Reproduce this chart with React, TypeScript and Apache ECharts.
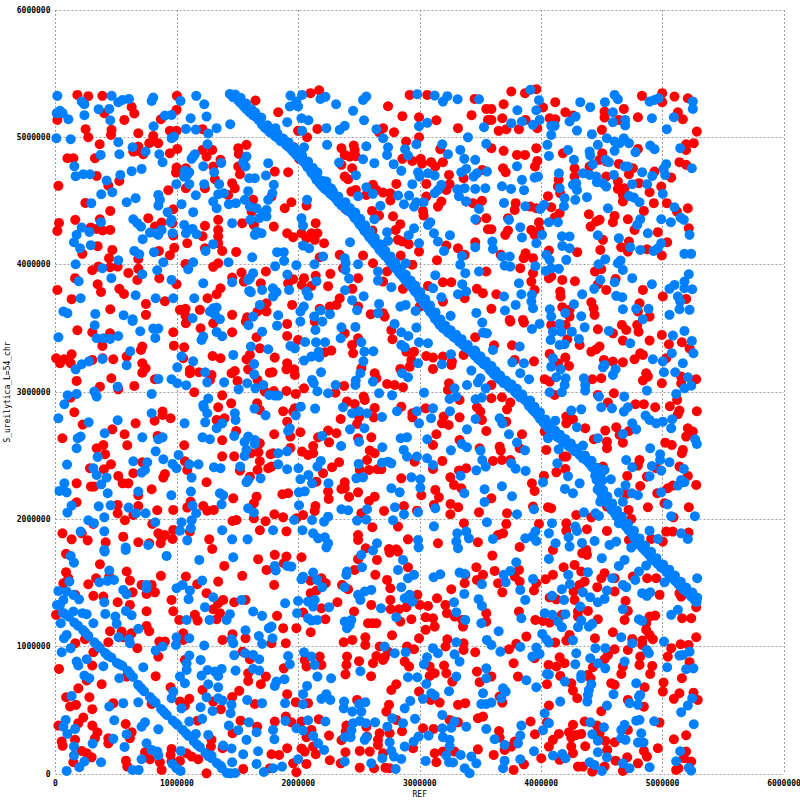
import React, { useEffect, useRef } from "react";
import * as echarts from "echarts";

const tickMax = 6000000;
const tickStep = 1000000;

const bandUpper = [[1436,5341],[1480,5315],[1525,5270],[1570,5225],[1600,5200],[1650,5160],[1700,5100],[1740,5065],[1782,5035],[1830,4995],[1875,4965],[1920,4925],[1960,4885],[1987,4862],[2035,4815],[2075,4765],[2110,4720],[2150,4665],[2193,4619],[2240,4580],[2285,4540],[2330,4490],[2380,4450],[2424,4415],[2465,4365],[2505,4315],[2545,4265],[2585,4215],[2630,4165],[2670,4116],[2715,4070],[2755,4020],[2800,3970],[2840,3925],[2880,3880],[2918,3841],[2960,3790],[3000,3735],[3040,3685],[3085,3630],[3125,3575],[3165,3527],[3210,3490],[3255,3455],[3300,3420],[3350,3375],[3411,3331],[3455,3285],[3500,3245],[3545,3210],[3580,3170],[3617,3134],[3665,3095],[3710,3065],[3755,3030],[3800,2985],[3864,2938],[3900,2890],[3945,2845],[3990,2790],[4030,2745],[4070,2702],[4110,2670],[4155,2635],[4200,2600],[4250,2560],[4317,2505],[4370,2465],[4420,2410],[4445,2345],[4457,2309],[4465,2235],[4500,2185],[4540,2130],[4580,2074],[4620,2025],[4670,1970],[4720,1915],[4765,1855],[4810,1799],[4860,1750],[4905,1700],[4960,1650],[5010,1610],[5057,1563],[5105,1515],[5150,1470],[5200,1430],[5240,1390],[5280,1351]];
const bandUpperSide = [[1481,5336],[1525,5310],[1570,5265],[1615,5220],[1645,5195],[1695,5155],[1745,5095],[1785,5060],[1827,5030],[1875,4990],[1920,4960],[1965,4920],[2005,4880],[2032,4857],[2080,4810],[2120,4760],[2155,4715],[2195,4660],[2238,4614],[2285,4575],[2330,4535],[2375,4485],[2425,4445],[2469,4410],[2510,4360],[2550,4310],[2590,4260],[2630,4210],[2675,4160],[2715,4111],[2760,4065],[2800,4015],[2845,3965],[2885,3920],[2925,3875],[2963,3836],[3005,3785],[3045,3730],[3085,3680],[3130,3625],[3170,3570],[3210,3522],[3255,3485],[3300,3450],[3345,3415],[3395,3370],[3456,3326],[3500,3280],[3545,3240],[3590,3205],[3625,3165],[3662,3129],[3710,3090],[3755,3060],[3800,3025],[3845,2980],[3909,2933],[3945,2885],[3990,2840],[4035,2785],[4075,2740],[4115,2697],[4155,2665],[4200,2630],[4245,2595],[4295,2555],[4362,2500],[4415,2460],[4465,2405],[4490,2340],[4502,2304],[4510,2230],[4545,2180],[4585,2125],[4625,2069],[4665,2020],[4715,1965],[4765,1910],[4810,1850],[4855,1794],[4905,1745],[4950,1695],[5005,1645],[5055,1605],[5102,1558],[5150,1510],[5195,1465],[5245,1425],[5285,1385]];
const bandUpperMid = [[1461,5316],[1505,5290],[1550,5245],[1595,5200],[1625,5175],[1675,5135],[1725,5075],[1765,5040],[1807,5010],[1855,4970],[1900,4940],[1945,4900],[1985,4860],[2012,4837],[2060,4790],[2100,4740],[2135,4695],[2175,4640],[2218,4594],[2265,4555],[2310,4515],[2355,4465],[2405,4425],[2449,4390],[2490,4340],[2530,4290],[2570,4240],[2610,4190],[2655,4140],[2695,4091],[2740,4045],[2780,3995],[2825,3945],[2865,3900],[2905,3855],[2943,3816],[2985,3765],[3025,3710],[3065,3660],[3110,3605],[3150,3550],[3190,3502],[3235,3465],[3280,3430],[3325,3395],[3375,3350],[3436,3306],[3480,3260],[3525,3220],[3570,3185],[3605,3145],[3642,3109],[3690,3070],[3735,3040],[3780,3005],[3825,2960],[3889,2913],[3925,2865],[3970,2820],[4015,2765],[4055,2720],[4095,2677],[4135,2645],[4180,2610],[4225,2575],[4275,2535],[4342,2480],[4395,2440],[4445,2385],[4470,2320],[4482,2284],[4490,2210],[4525,2160],[4565,2105],[4605,2049],[4645,2000],[4695,1945],[4745,1890],[4790,1830],[4835,1774],[4885,1725],[4930,1675],[4985,1625],[5035,1585],[5082,1538],[5130,1490],[5175,1445],[5225,1405],[5265,1365]];
const bandLower = [[12,1327],[62,1265],[110,1235],[155,1190],[226,1131],[270,1085],[320,1035],[366,990],[410,950],[460,915],[506,872],[550,850],[595,810],[638,762],[680,700],[730,650],[778,605],[825,560],[870,510],[917,463],[965,420],[1005,385],[1049,346],[1095,300],[1140,255],[1189,212],[1235,165],[1285,125],[1329,86],[1370,45],[1411,8],[1440,5],[1360,65],[1260,140],[1165,232],[1075,320],[990,400],[895,485],[800,580],[705,675],[615,785],[530,860],[430,930],[345,1010],[245,1110],[185,1165],[90,1250],[1480,8]];

const redA = [[180,5333],[270,5323],[386,5326],[1000,5326],[627,5239],[649,5187],[402,5190],[15,5137],[567,5137],[868,5142],[997,5216],[1647,5289],[248,5064],[270,5001],[462,5059],[457,5019],[682,5032],[364,4946],[805,5011],[772,4954],[846,4954],[682,4928],[674,4894],[641,4888],[723,4867],[1003,4909],[942,4875],[98,4836],[147,4836],[325,4836],[942,5051],[997,5051],[1211,5064],[1211,4901],[1291,4901],[1244,4849],[1505,4915],[1573,4941],[1510,4870],[1359,4823],[1299,4771],[997,4763],[992,4723],[1074,4757],[1519,4710],[1505,4771],[339,4697],[526,4658],[435,4621],[24,4619],[929,4585],[1074,4600],[1231,4600],[1313,4671],[1455,4640],[1477,4600],[1422,4548],[246,4485],[451,4422],[970,4435],[764,4365],[1340,4352],[1538,4326],[1628,4509],[1615,4417],[1634,4312],[29,4328],[15,4265],[163,4352],[366,4357],[290,4291],[339,4281],[388,4268],[451,4273],[874,4331],[819,4299],[962,4326],[1231,4305],[1340,4273],[1340,4221],[1211,4223],[1085,4168],[1340,4168],[970,4229],[347,4145],[468,4116],[221,4085],[978,4132],[1231,4129],[1373,4108],[1488,4100],[852,4108],[942,4074],[682,4045],[441,4051],[449,3980],[512,3985],[353,3985],[303,3956],[1071,4006],[1340,4011],[1299,3983],[682,3967],[600,3935],[674,3880],[855,3894],[161,3894],[347,3846],[526,3810],[564,3770],[375,3786],[15,3802],[133,3729],[997,3846],[1532,3938],[1551,3867],[1455,3899],[1733,3946],[1691,3854],[1359,3815],[1327,3768],[1252,3736],[901,3713],[745,3692],[451,3650],[745,3606],[1025,3645],[1071,3653],[1071,3598],[1189,3645],[1455,3606],[1579,3587],[1664,3632],[1738,3697],[1738,3632]];
const blueA = [[15,5326],[216,5281],[238,5260],[462,5326],[517,5276],[553,5294],[605,5302],[792,5286],[805,5313],[1030,5286],[1159,5326],[1225,5260],[10,5190],[37,5208],[59,5190],[355,5221],[443,5223],[106,5142],[238,5174],[451,5134],[901,5171],[956,5176],[1113,5150],[1244,5163],[1439,5103],[808,5087],[1074,5066],[1156,5061],[1258,5030],[1327,5072],[7,4993],[125,4985],[517,4962],[635,4922],[742,4888],[855,4867],[882,4805],[956,4993],[975,5006],[1252,4946],[372,4862],[526,4867],[1134,4849],[1148,4867],[1121,4831],[155,4773],[1217,4773],[1365,4799],[1573,4849],[1546,4805],[1565,4771],[1752,4797],[709,4752],[627,4734],[1307,4726],[166,4695],[229,4710],[284,4710],[534,4705],[421,4661],[1066,4737],[1102,4726],[1058,4692],[1085,4705],[1102,4632],[995,4632],[1225,4632],[1348,4632],[1595,4679],[1642,4679],[1733,4700],[377,4553],[468,4569],[847,4548],[860,4509],[847,4464],[1156,4545],[1340,4553],[1387,4561],[1587,4577],[295,4483],[586,4490],[660,4522],[1038,4475],[1299,4496],[1327,4443],[1428,4475],[1486,4483],[1560,4509],[1752,4509],[1601,4456],[1656,4443],[1711,4404],[1738,4430],[1134,4412],[923,4412],[1678,4365],[1738,4378],[641,4357],[674,4326],[704,4299],[375,4333],[216,4291],[279,4257],[956,4352],[948,4333],[1455,4326],[1604,4352],[1060,4312],[1074,4247],[1129,4281],[1162,4239],[778,4252],[827,4247],[874,4273],[847,4234],[964,4247],[718,4200],[1656,4260],[1697,4247],[1642,4234],[174,4234],[152,4176],[202,4129],[290,4153],[649,4108],[690,4082],[811,4098],[1299,4161],[1236,4108],[166,4003],[517,4035],[386,3972],[888,4019],[1134,4019],[1093,3964],[1425,4019],[1620,4058],[838,3956],[715,3925],[460,3894],[191,3870],[956,3880],[1217,3854],[1455,3862],[1628,3933],[1601,3894],[1587,3880],[1595,3794],[1609,3784],[1702,3802],[207,3736],[660,3760],[825,3736],[970,3736],[1143,3736],[1683,3684],[65,3632],[98,3619],[328,3613],[561,3603],[635,3571],[1129,3579],[1299,3658],[1327,3663],[1272,3632],[1313,3606],[1354,3571],[1628,3592]];

const redB = [[2100,5347],[2171,5370],[1834,5197],[2739,5244],[2857,5166],[2994,5158],[3137,5134],[3427,5174],[3548,5223],[2917,5333],[3062,5333],[3452,5302],[2698,5072],[2665,5040],[2788,5040],[2157,5066],[1998,5051],[2072,5001],[1965,4922],[2994,5001],[2887,4967],[3315,5072],[3562,5137],[2355,4915],[2456,4936],[2464,4901],[2382,4862],[2423,4849],[2473,4852],[2355,4784],[2443,4757],[2006,4831],[2857,4831],[2939,4815],[3008,4831],[3019,4794],[3093,4805],[3128,4771],[3191,4805],[3169,4907],[1806,4731],[1916,4726],[3241,4705],[3515,4744],[3361,4679],[3054,4634],[2807,4634],[2382,4692],[2410,4671],[2615,4627],[2643,4587],[2698,4566],[2758,4561],[2758,4504],[2437,4574],[2473,4587],[2560,4548],[3246,4632],[3219,4587],[3383,4496],[3438,4483],[3512,4501],[3178,4496],[3150,4456],[3054,4535],[1943,4490],[1888,4443],[2067,4464],[1779,4535],[2388,4438],[2607,4422],[2665,4386],[3027,4422],[3032,4386],[2780,4380],[2143,4326],[1798,4299],[2840,4318],[2802,4273],[2610,4268],[3466,4352],[3548,4365],[3562,4278],[1908,4247],[1957,4216],[2026,4247],[2067,4208],[2108,4247],[2157,4247],[2135,4195],[2212,4168],[2821,4195],[2857,4182],[2909,4161],[2689,4142],[3219,4150],[3315,4129],[3457,4176],[2994,4103],[2176,4058],[2341,4077],[2533,4072],[2843,4072],[2615,4011],[3142,4035],[2939,4000],[3548,3946],[3370,4077],[2368,3972],[2264,3928],[2047,3894],[2143,3912],[1957,3886],[1916,3854],[2028,3841],[2108,3833],[2245,3831],[2492,3894],[2445,3810],[2698,3867],[2731,3946],[2862,3810],[3068,3833],[3191,3862],[3260,3862],[3471,3810],[3520,3776],[3370,3736],[3191,3710],[1949,3684],[2341,3736],[2314,3684],[2259,3671],[2492,3671],[2596,3611],[2698,3619],[2711,3592],[3000,3671],[2176,3653]];
const blueB = [[1935,5328],[1984,5281],[2031,5333],[1930,5242],[1998,5242],[2182,5302],[2223,5318],[2311,5260],[2533,5294],[2560,5320],[2451,5208],[2541,5134],[1908,5119],[2026,5150],[2083,5134],[1812,5072],[2031,5051],[2231,5072],[2341,5059],[2382,5090],[2643,5064],[2698,4993],[2994,5087],[3062,5114],[2980,5339],[3123,5328],[3191,5281],[3227,5323],[3312,5299],[3488,5299],[3529,5080],[3397,5000],[2047,4922],[2237,4941],[2560,4930],[2739,4922],[2879,4907],[2903,4857],[2972,4946],[3548,4949],[3186,4946],[3232,4867],[3334,4901],[3367,4831],[3457,4823],[2731,4862],[2785,4789],[2533,4828],[2626,4797],[2336,4802],[2848,4737],[2986,4726],[2999,4692],[3068,4718],[3123,4700],[3342,4726],[3383,4752],[3444,4692],[3471,4718],[3553,4731],[2157,4726],[2475,4702],[2231,4653],[2270,4600],[2939,4632],[2560,4608],[2492,4538],[2615,4556],[2821,4543],[2912,4543],[3178,4627],[3150,4587],[3123,4561],[3309,4593],[3370,4600],[3457,4595],[3540,4600],[3323,4538],[3383,4496],[1798,4627],[1787,4561],[2072,4509],[2388,4490],[2870,4475],[2972,4490],[3032,4490],[2953,4456],[2676,4462],[3488,4438],[3457,4357],[2626,4357],[2026,4365],[2039,4307],[3087,4333],[3068,4312],[2953,4286],[2731,4255],[3117,4247],[3249,4231],[2909,4231],[2739,4187],[2426,4176],[2994,4168],[3150,4182],[3200,4108],[3457,4137],[2039,4150],[2089,4129],[1825,4098],[1880,4098],[1883,4030],[1809,3988],[1984,3996],[2133,4003],[2204,4064],[2382,4051],[2390,4011],[2388,3959],[2492,4003],[3348,4069],[3334,4000],[3375,3933],[3488,3946],[2884,4011],[1910,3922],[2418,3891],[2149,3870],[2656,3946],[2656,3875],[3128,3917],[2766,3823],[1790,3815],[1820,3784],[1792,3750],[1924,3802],[2067,3789],[2083,3755],[2385,3799],[2538,3752],[2443,3721],[3109,3815],[3178,3744],[3315,3768],[3383,3789],[3350,3846],[2665,3692],[2840,3671],[2884,3684],[2484,3642],[2045,3671],[2017,3632],[1834,3603],[2185,3640],[2261,3611],[2130,3592],[2656,3619],[2966,3637],[3466,3621],[3254,3598]];

const redC = [[3754,5360],[3691,5260],[3867,5347],[3960,5378],[4116,5276],[4015,5234],[3590,5223],[3590,5137],[3680,5150],[3872,5137],[4199,5197],[4262,5171],[4070,5150],[4116,5142],[3650,5051],[3713,5064],[3817,5064],[3968,5072],[4500,5059],[4522,5203],[4522,5155],[4681,5223],[4797,5158],[4640,5137],[4830,5326],[4997,5347],[4997,5276],[5098,5320],[5208,5307],[5126,5197],[5167,5142],[5282,5045],[3590,4915],[3691,4894],[3801,4862],[3867,4862],[3960,4915],[4179,4875],[4503,4875],[4481,4823],[4536,4810],[4797,4909],[5194,4946],[5257,4954],[5194,4901],[3686,4757],[3708,4726],[3968,4815],[3949,4771],[4275,4757],[4399,4771],[4275,4692],[4640,4791],[4756,4757],[4723,4710],[4934,4731],[5071,4684],[5139,4805],[5194,4784],[4536,4692],[4144,4666],[4138,4613],[4632,4653],[4632,4595],[4687,4600],[4805,4640],[4893,4569],[4989,4613],[4157,4561],[4056,4538],[4673,4548],[4673,4496],[4928,4483],[5035,4483],[3790,4483],[3782,4430],[3911,4456],[3960,4443],[4083,4451],[4152,4404],[4111,4370],[4846,4422],[4393,4396],[5208,4443],[5118,4417],[4605,4383],[4591,4333],[4481,4352],[4454,4339],[4714,4357],[3727,4365],[3982,4333],[4407,4299],[3590,4278],[3727,4268],[3705,4234],[3919,4273],[3946,4234],[3987,4273],[4769,4273],[4961,4255],[5216,4286],[4509,4195],[4487,4116],[4723,4182],[4659,4137],[4714,4103],[4871,4121],[5038,4176],[4994,4072],[4297,4098],[4064,4111],[3933,4051],[3872,4090],[3856,4051],[3667,4077],[3828,3972],[3933,3933],[3919,3867],[3946,3802],[4443,3946],[4495,3964],[4083,3907],[4174,3880],[4278,3870],[4064,3894],[4536,3802],[4613,3888],[4467,3846],[4838,3802],[5002,3750],[5194,3731],[3631,3768],[4157,3789],[4160,3750],[4413,3705],[4432,3658],[4440,3606],[4174,3666],[4234,3645],[4234,3592],[4810,3697],[4797,3632],[4893,3592],[3590,3653],[3741,3566],[3850,3566]];
const blueC = [[3911,5373],[3982,5292],[3804,5213],[3960,5213],[3987,5137],[3842,5124],[3754,5111],[3933,5098],[4322,5276],[4404,5237],[4525,5276],[4605,5333],[4632,5299],[4591,5197],[4591,5119],[4692,5137],[4692,5093],[4912,5150],[4893,5281],[4934,5294],[4967,5307],[5249,5281],[5249,5223],[5093,5158],[5035,5064],[4284,5163],[4234,5124],[4083,5090],[4111,5090],[4083,5019],[4295,5053],[4418,5025],[4051,4941],[4064,4854],[4221,4901],[4270,4823],[4467,4941],[4399,4888],[4404,4857],[4426,4789],[4531,4823],[4558,4805],[4541,4993],[4605,4967],[4646,4954],[4681,4993],[4723,4954],[4605,4894],[4777,4883],[4898,4936],[4934,4907],[5145,4915],[3801,4773],[4146,4718],[4344,4718],[4399,4705],[4454,4692],[4459,4648],[4509,4640],[4536,4613],[4599,4705],[4687,4771],[4714,4771],[4832,4726],[4915,4697],[5030,4789],[5008,4752],[5022,4705],[5241,4757],[3974,4692],[3946,4684],[3842,4666],[4262,4627],[4289,4640],[4295,4587],[4750,4632],[4873,4632],[3677,4616],[3752,4595],[3859,4585],[4152,4600],[5002,4556],[4193,4522],[4281,4509],[4377,4530],[4723,4540],[4764,4527],[4810,4490],[3694,4485],[3870,4459],[3993,4438],[4023,4470],[4188,4459],[4550,4443],[5098,4451],[5148,4370],[5175,4352],[3735,4352],[4064,4333],[4138,4333],[4989,4357],[5068,4333],[4816,4357],[4791,4312],[3828,4294],[3842,4213],[4007,4234],[4171,4223],[4234,4221],[4467,4231],[4640,4208],[4879,4247],[5222,4234],[3598,4182],[3603,4124],[3960,4168],[4174,4147],[4234,4129],[4734,4137],[4816,4116],[4926,4108],[4989,4168],[4961,4129],[5180,4085],[5235,4085],[3677,4064],[3741,4064],[4042,4077],[4070,4038],[4207,4038],[4528,4043],[4473,4003],[4654,4032],[4632,4011],[3699,3993],[3746,3985],[3952,3988],[4083,3972],[4037,3951],[4146,3967],[4673,3959],[5216,3925],[4750,3894],[4487,3880],[4605,3862],[3817,3854],[4912,3846],[5180,3867],[5098,3841],[5057,3810],[5244,3807],[5180,3815],[4437,3810],[4338,3768],[4618,3755],[4668,3744],[5126,3750],[5145,3710],[3694,3750],[3837,3768],[3924,3763],[3919,3710],[3790,3684],[3933,3658],[3702,3640],[4270,3689],[4072,3650],[4673,3650],[4199,3621],[4083,3592],[4330,3595],[4783,3653],[4884,3653],[5139,3650],[5222,3645],[5057,3606],[4838,3571]];

const redD = [[180,3485],[303,3469],[449,3461],[386,3362],[970,3469],[975,3364],[1060,3351],[715,3357],[704,3330],[1195,3501],[1074,3540],[1299,3540],[1455,3469],[1656,3430],[1568,3553],[5,3265],[37,3226],[70,3257],[133,3296],[125,3226],[303,3252],[388,3265],[476,3257],[586,3278],[715,3226],[742,3186],[715,3152],[1052,3265],[1294,3283],[1359,3265],[1573,3257],[1601,3291],[1683,3343],[1107,3173],[1107,3147],[1181,3155],[1285,3134],[1272,3095],[1477,3165],[1450,3147],[1587,3178],[1765,3152],[1499,3087],[1664,3095],[1724,3003],[174,3087],[460,3108],[366,3042],[649,3048],[819,3100],[517,3021],[1143,2998],[1373,2974],[125,2956],[1447,2911],[1340,2880],[1661,2911],[1683,2859],[155,2841],[882,2846],[882,2820],[948,2794],[816,2775],[1327,2781],[1392,2794],[660,2754],[224,2744],[468,2707],[57,2637],[569,2668],[841,2655],[591,2582],[1060,2582],[1373,2621],[1488,2694],[1683,2597],[339,2558],[394,2584],[408,2511],[1373,2495],[1472,2495],[1609,2519],[1672,2527],[1771,2511],[1683,2456],[1066,2456],[1085,2388],[715,2448],[457,2432],[399,2393],[284,2401],[641,2362],[517,2341],[901,2356],[888,2328],[1664,2388],[1519,2383],[1752,2401],[553,2283],[600,2283],[174,2283],[292,2257],[317,2257],[1244,2291],[1601,2335],[792,2236],[682,2189],[1656,2178],[1634,2126],[1464,2165],[1113,2139],[174,2134],[512,2113],[682,2105],[512,2048],[641,2034],[838,2071],[970,2074],[1217,2105],[1250,2068],[1304,2074],[1085,2092],[572,1993],[797,1964],[1458,1987],[1491,1995],[1634,2008],[1730,1985],[312,1964],[57,1890],[133,1843],[216,1890],[265,1835],[413,1820],[558,1864],[682,1820],[772,1812],[847,1890],[874,1851],[901,1877],[866,1812],[970,1917],[964,1846],[1107,1904],[1266,1843],[1683,1914],[1291,1767]];
const blueD = [[323,3524],[24,3430],[339,3422],[394,3422],[449,3417],[517,3440],[635,3558],[698,3477],[805,3498],[847,3498],[822,3425],[1217,3435],[1203,3409],[1327,3472],[1373,3438],[1590,3524],[1702,3474],[1609,3357],[1752,3336],[616,3320],[386,3260],[276,3241],[216,3218],[166,3178],[586,3210],[1038,3281],[1134,3241],[1464,3291],[1003,3194],[1636,3220],[1233,3155],[1636,3139],[847,3103],[956,3100],[1003,3069],[1077,3053],[1250,3076],[1389,3076],[1579,3069],[512,3042],[1508,3021],[1647,3029],[1711,3055],[100,2974],[174,2985],[320,3003],[339,2964],[792,2985],[1760,2977],[73,2904],[1258,2948],[1217,2898],[1222,2880],[1250,2833],[1477,2833],[1639,2870],[792,2833],[24,2794],[1730,2817],[1483,2781],[512,2778],[273,2762],[1063,2754],[1233,2762],[1373,2754],[1327,2715],[1472,2655],[405,2676],[1211,2644],[1272,2629],[183,2637],[207,2650],[715,2644],[847,2629],[882,2644],[174,2558],[1587,2650],[1557,2608],[1642,2623],[1642,2592],[1573,2545],[1557,2498],[825,2534],[347,2490],[1014,2506],[95,2430],[641,2456],[756,2448],[888,2472],[964,2435],[997,2401],[1102,2432],[1178,2432],[1305,2409],[1359,2401],[1521,2414],[312,2401],[339,2348],[421,2328],[737,2388],[709,2367],[1121,2328],[1587,2309],[1573,2291],[1689,2322],[377,2275],[73,2283],[32,2223],[92,2212],[430,2205],[682,2218],[954,2189],[1115,2218],[1354,2205],[1381,2189],[1368,2118],[133,2108],[98,2053],[356,2102],[454,2110],[602,2092],[1129,2108],[1587,2087],[1634,2053],[663,2048],[742,2048],[1159,2048],[402,2016],[270,1993],[317,1969],[1121,1993],[822,1977],[1038,1977],[1115,1930],[1025,1911],[207,1904],[402,1906],[1373,1914],[1085,1835],[1455,1843],[1582,1843],[764,1799],[578,1778],[402,1760]];

const redE = [[1908,3535],[2135,3553],[1908,3440],[1998,3409],[2382,3461],[2492,3422],[2443,3370],[2451,3304],[2272,3325],[2218,3312],[1806,3270],[1908,3226],[1902,3178],[1965,3178],[1971,3134],[1787,3155],[2519,3186],[2629,3147],[2643,3108],[2766,3487],[2775,3414],[2890,3317],[2953,3317],[2931,3252],[2917,3199],[2840,3181],[3054,3283],[3109,3270],[3191,3278],[3265,3239],[3260,3212],[3361,3291],[3109,3181],[3457,3430],[2047,3029],[2377,3048],[2731,3063],[2793,3055],[2862,3037],[3241,3069],[3232,3016],[3328,2938],[1902,3008],[1979,2985],[1798,3008],[2305,2995],[2538,2964],[2547,2938],[2401,2925],[2464,2906],[2848,2885],[3049,2872],[3471,2880],[3499,2846],[3512,2781],[1875,2849],[1971,2872],[1957,2846],[2629,2875],[2621,2801],[2349,2788],[2500,2801],[2484,2749],[2939,2833],[2939,2801],[3197,2807],[3183,2754],[3238,2741],[3328,2801],[1908,2767],[1801,2668],[2017,2684],[1935,2650],[2245,2697],[2314,2676],[2163,2644],[2253,2605],[2492,2637],[2601,2644],[3137,2668],[3109,2584],[3328,2623],[3548,2694],[1935,2561],[1792,2519],[2031,2532],[2080,2506],[2122,2576],[2122,2519],[2588,2540],[2629,2519],[2958,2453],[3186,2459],[3493,2558],[1779,2414],[2336,2448],[2278,2409],[2204,2362],[2566,2466],[2506,2388],[2582,2388],[2651,2393],[2684,2393],[3109,2396],[3323,2383],[3383,2401],[2848,2322],[3252,2330],[2149,2296],[2382,2291],[2355,2239],[2382,2244],[3282,2270],[3342,2244],[2492,2212],[1869,2197],[1916,2205],[2245,2218],[2250,2160],[3128,2231],[3158,2173],[3013,2189],[2418,2176],[2629,2178],[2582,2144],[2141,2105],[2135,2066],[2870,2105],[3117,2113],[3254,2121],[3317,2095],[1803,2040],[1875,2016],[2039,2034],[1984,2008],[2706,2066],[2519,2048],[2977,2068],[3252,2040],[3488,2055],[3364,1969],[1902,1906],[2821,1943],[2610,1938],[2492,1877],[2492,1838],[2903,1843],[3150,1812],[3479,1820],[2747,1767],[2807,1765],[2555,1773]];
const blueE = [[1825,3521],[2017,3553],[2141,3487],[2198,3553],[2355,3508],[2470,3511],[2349,3422],[2793,3535],[2848,3469],[2906,3440],[2972,3506],[2994,3391],[3068,3383],[3515,3545],[3521,3466],[3553,3461],[1935,3362],[1971,3343],[2056,3393],[2146,3391],[2220,3391],[2519,3391],[2848,3370],[2876,3351],[2168,3317],[2171,3273],[2047,3247],[2108,3278],[2544,3317],[2618,3320],[2536,3241],[2986,3226],[3183,3218],[3257,3296],[2187,3155],[2511,3147],[2473,3090],[2470,3055],[2615,3082],[2854,3147],[2903,3116],[3425,3168],[3499,3108],[3479,3076],[3389,3055],[2113,3095],[2127,3069],[2157,3006],[2308,3055],[2245,2990],[2665,2990],[2772,2974],[3035,2995],[1806,2972],[1834,2972],[3287,3029],[3301,2964],[3246,2946],[3543,3029],[3460,2943],[3512,2956],[2020,2885],[2138,2870],[2368,2880],[1979,2817],[2443,2833],[2500,2849],[2566,2833],[2689,2804],[2813,2849],[2977,2849],[3109,2872],[3093,2794],[3249,2849],[3460,2788],[2994,2754],[1930,2715],[1916,2694],[2426,2707],[2544,2715],[3389,2707],[2196,2655],[2843,2637],[2895,2644],[3062,2629],[2500,2610],[2352,2576],[2692,2566],[3345,2592],[3389,2566],[3257,2542],[2868,2545],[2895,2493],[1908,2534],[1834,2519],[3501,2540],[3515,2466],[2977,2493],[3060,2480],[3109,2427],[2185,2459],[2157,2414],[1834,2432],[1908,2393],[2001,2401],[2497,2435],[2689,2445],[2739,2453],[2766,2440],[3543,2414],[3466,2385],[2083,2348],[2017,2315],[2113,2283],[2478,2322],[2533,2330],[2931,2330],[3005,2315],[3337,2343],[2248,2283],[3005,2249],[2766,2244],[2835,2212],[3534,2236],[2004,2212],[2053,2220],[3367,2205],[3534,2136],[2006,2110],[2796,2095],[3128,2087],[2355,2079],[2410,2071],[2566,2079],[2870,2040],[2986,2055],[1965,1995],[2113,1995],[2212,1982],[2245,2021],[2484,1990],[2560,1998],[2780,1993],[3553,1977],[1792,1914],[2034,1914],[3117,1945],[2122,1890],[2163,1851],[2218,1859],[2245,1812],[3383,1904],[3309,1890],[3405,1851],[3301,1825],[2648,1812],[2986,1838],[3315,1773],[2231,1780],[2991,1780]];

const redF = [[3746,3553],[3858,3545],[4083,3527],[4201,3527],[4467,3493],[4665,3527],[4701,3487],[4791,3527],[4802,3474],[4591,3461],[4994,3448],[4893,3404],[4673,3404],[3760,3367],[3612,3367],[4215,3414],[4317,3370],[4481,3357],[4413,3317],[4454,3336],[5052,3375],[5159,3391],[5222,3343],[4070,3299],[4199,3270],[4229,3205],[4138,3226],[3941,3241],[3782,3252],[4517,3252],[4591,3239],[4673,3233],[4769,3257],[4816,3304],[4838,3291],[5030,3265],[4865,3147],[4879,3121],[4838,3090],[4421,3100],[4495,3108],[5153,3121],[4994,3069],[5277,3100],[5153,3069],[4029,3100],[4070,3082],[3590,3055],[4111,2977],[4599,2990],[4467,2977],[3677,2959],[3590,2951],[3746,2917],[3719,2864],[4550,2917],[4777,2904],[4846,2904],[4939,2880],[5060,2888],[5139,2854],[5282,2849],[5120,2938],[5126,2825],[4207,2807],[4262,2786],[4207,2754],[4363,2715],[4528,2697],[4618,2723],[4723,2694],[4646,2663],[3713,2767],[3842,2668],[4029,2689],[5208,2715],[5249,2689],[5194,2650],[4673,2602],[4542,2610],[4542,2558],[4435,2629],[5022,2602],[5076,2584],[3658,2571],[3667,2540],[3823,2558],[4042,2545],[5167,2545],[5159,2519],[3603,2459],[3677,2466],[3746,2466],[4185,2493],[4207,2493],[4810,2466],[4797,2422],[4509,2414],[4947,2401],[5139,2414],[4199,2396],[4125,2369],[4023,2341],[4709,2341],[4871,2335],[5208,2341],[3924,2283],[3946,2223],[4816,2262],[5277,2270],[5043,2244],[5084,2265],[4956,2205],[4701,2199],[3590,2165],[3933,2100],[4056,2095],[4083,2087],[4542,2100],[4879,2095],[5016,2126],[5216,2095],[4720,2074],[3719,2048],[4413,2016],[4289,2034],[5090,2016],[4742,2003],[3982,1964],[3713,1964],[4207,1969],[4207,1911],[4377,1922],[4542,1909],[5030,1904],[5084,1904],[5214,1896],[3686,1890],[3645,1877],[3823,1783],[4723,1838],[4906,1846],[5002,1825],[4097,1760],[4371,1760]];
const blueF = [[3924,3495],[4078,3409],[4152,3370],[4193,3375],[4311,3417],[4253,3474],[4166,3474],[4097,3474],[3987,3535],[4152,3535],[4358,3508],[4558,3480],[4734,3383],[3823,3357],[3603,3330],[5085,3443],[5180,3480],[5241,3401],[5254,3304],[5076,3304],[4920,3257],[5002,3241],[5167,3226],[3762,3233],[3858,3226],[4097,3265],[4083,3199],[4160,3178],[4522,3213],[4509,3194],[4613,3178],[4591,3134],[5011,3155],[5104,3155],[3828,3147],[3900,3100],[4125,3116],[4201,3108],[4193,3055],[4352,3108],[4363,3055],[4363,3011],[5208,3116],[5236,3050],[5180,3029],[5112,2985],[4871,3011],[4070,2998],[4171,2998],[4476,2964],[4684,2964],[4495,2880],[4583,2872],[4714,2880],[4681,2846],[4248,2854],[4330,2864],[4860,2815],[4893,2781],[4947,2754],[5002,2767],[5079,2786],[3658,2794],[3680,2754],[4116,2775],[4295,2723],[4750,2754],[4783,2707],[5071,2715],[4673,2671],[4467,2637],[3735,2668],[4056,2637],[5268,2629],[5282,2592],[3801,2603],[3867,2542],[4144,2550],[4898,2558],[4344,2579],[4980,2511],[4980,2466],[5057,2448],[4700,2466],[4750,2409],[4912,2419],[4989,2383],[3754,2440],[3790,2398],[3872,2380],[4133,2440],[4522,2388],[4221,2338],[4893,2338],[5175,2396],[5153,2309],[5180,2291],[5126,2265],[4015,2291],[4317,2283],[4695,2267],[4574,2315],[3677,2260],[4196,2239],[4262,2205],[3760,2181],[4989,2212],[4747,2205],[4797,2189],[4640,2210],[4487,2139],[4673,2139],[5041,2118],[3941,2079],[3801,2040],[5071,2024],[5266,2024],[4352,2055],[4476,2027],[4448,2048],[4640,1969],[4089,1969],[4281,1943],[4295,1909],[4893,1911],[5153,1890],[5208,1846],[4961,1846],[4064,1890],[4226,1859],[3952,1904],[3927,1864],[3869,1851],[3960,1830],[3603,1846],[4336,1815],[4440,1830],[4618,1825],[4563,1799],[4119,1812],[4234,1786],[4742,1778]];

const redG = [[87,1729],[366,1647],[87,1585],[106,1537],[65,1498],[270,1490],[334,1537],[443,1551],[586,1590],[613,1519],[868,1556],[709,1485],[792,1485],[819,1427],[750,1414],[312,1399],[394,1393],[512,1349],[635,1427],[613,1328],[161,1407],[5,1250],[750,1278],[956,1367],[970,1278],[1074,1551],[1167,1490],[1340,1511],[1390,1634],[1538,1556],[1669,1687],[1738,1603],[1244,1420],[1381,1367],[1340,1341],[1472,1349],[1565,1367],[1299,1294],[1354,1263],[1327,1215],[1148,1250],[1170,1205],[1019,1210],[449,1121],[545,1119],[627,1105],[558,1074],[750,1163],[772,1121],[1052,1105],[1052,1053],[435,1035],[243,1058],[163,1027],[855,1040],[901,1040],[674,988],[1376,1053],[1458,1098],[1565,1066],[312,956],[847,922],[1066,896],[1541,961],[1601,901],[29,825],[303,852],[1587,791],[1587,731],[1691,705],[1733,765],[380,705],[825,768],[586,765],[188,673],[257,734],[948,681],[1211,660],[1513,653],[279,603],[87,603],[476,556],[120,530],[169,543],[303,509],[792,550],[1025,569],[1102,590],[1066,537],[1299,569],[1362,509],[1455,605],[1642,550],[229,443],[188,399],[24,380],[303,380],[345,328],[325,281],[578,393],[627,328],[613,281],[1170,419],[1524,419],[1661,372],[1458,320],[51,255],[59,221],[161,268],[435,281],[435,241],[1285,268],[1280,215],[1376,202],[956,197],[948,150],[1080,163],[1121,137],[1176,116],[216,181],[257,163],[298,131],[147,92],[580,105],[591,58],[737,171],[778,116],[860,92],[874,32],[956,98],[1025,103],[1244,5],[1546,40],[1765,45]];
const blueG = [[125,1713],[152,1660],[405,1747],[915,1713],[1184,1681],[1464,1702],[443,1598],[578,1760],[114,1511],[361,1506],[427,1517],[482,1524],[750,1485],[750,1459],[1208,1519],[997,1459],[1047,1485],[1107,1441],[24,1438],[92,1433],[147,1407],[194,1372],[558,1446],[586,1412],[402,1349],[65,1367],[37,1328],[1096,1373],[1299,1388],[1532,1367],[1231,1310],[410,1257],[580,1281],[627,1247],[221,1263],[257,1255],[147,1276],[493,1236],[504,1179],[312,1184],[43,1184],[1080,1210],[1269,1210],[1436,1255],[1409,1210],[1628,1276],[1702,1242],[1757,1145],[1565,1129],[682,1140],[92,1092],[70,1066],[520,1074],[605,1058],[613,1027],[997,1074],[1102,1066],[992,1014],[1225,1009],[1450,1058],[1464,1027],[1675,1084],[1702,1022],[882,1001],[825,969],[125,988],[51,956],[1562,948],[1628,935],[1678,901],[1472,933],[1102,930],[1195,896],[257,901],[174,883],[188,852],[394,846],[1080,870],[1080,817],[723,838],[1253,817],[1203,773],[1313,804],[1368,825],[1340,770],[1483,812],[1628,825],[1678,812],[238,773],[279,752],[526,752],[1025,765],[1066,713],[1258,705],[1340,681],[970,647],[956,595],[133,613],[1244,603],[1340,595],[1376,577],[1579,582],[1702,556],[558,556],[682,563],[443,530],[1038,516],[1195,524],[1294,495],[1450,543],[1442,477],[484,422],[84,425],[65,372],[1208,433],[1102,412],[1593,406],[1428,380],[737,406],[709,372],[847,351],[98,315],[161,354],[586,312],[1505,344],[1656,328],[1156,315],[1258,307],[476,276],[306,239],[1573,268],[750,241],[1381,223],[152,215],[152,145],[569,213],[1450,200],[792,189],[838,176],[847,145],[1033,181],[1285,145],[1669,179],[1546,155],[709,116],[375,92],[238,98],[196,53],[1455,92],[1656,79],[964,79],[997,45],[1030,24],[92,24],[635,32],[685,32],[1716,16]];

const redH = [[1806,1721],[1902,1708],[1880,1655],[2026,1702],[2492,1687],[2648,1681],[2752,1739],[2821,1747],[2464,1603],[2903,1624],[2634,1564],[1801,1485],[2100,1519],[2190,1537],[2226,1498],[2102,1420],[2149,1441],[2360,1485],[2410,1451],[2731,1524],[2758,1459],[3466,1624],[3521,1564],[3471,1524],[3370,1498],[3260,1451],[3375,1564],[2322,1349],[2190,1302],[2601,1328],[2459,1276],[2758,1367],[2761,1294],[2829,1294],[2890,1310],[2980,1407],[3000,1328],[3068,1320],[3142,1380],[3211,1328],[3224,1263],[3287,1236],[3350,1210],[3356,1158],[3548,1263],[3548,1197],[2039,1268],[1825,1242],[1875,1145],[1984,1145],[2102,1113],[2223,1215],[2574,1184],[2610,1184],[2643,1184],[2840,1197],[2931,1215],[3049,1231],[3109,1223],[3123,1158],[3049,1132],[1779,1027],[1897,1027],[2445,1053],[2374,1035],[2552,1074],[2552,1014],[2772,1090],[2994,1066],[3227,1058],[3213,1001],[3361,1027],[3361,974],[2895,1001],[2953,980],[3457,956],[2670,1001],[2643,927],[2711,917],[2739,961],[2698,896],[2401,922],[2396,857],[2500,886],[2615,870],[2876,883],[2912,844],[2053,896],[2067,844],[2176,922],[2190,857],[1880,830],[3200,852],[3082,844],[3082,770],[3123,791],[3219,791],[2388,783],[2599,768],[3471,804],[3268,726],[3493,721],[2807,705],[2766,660],[2994,647],[1908,627],[1979,564],[2080,556],[2484,582],[2747,543],[2725,490],[3164,561],[3315,543],[3375,556],[3090,582],[1806,412],[1897,451],[1943,406],[2026,412],[2168,430],[3479,438],[3521,451],[3246,425],[3315,406],[3027,359],[3114,354],[2807,425],[2396,380],[2390,333],[2560,372],[2067,289],[2108,346],[2253,302],[2854,336],[2670,320],[2752,320],[2656,268],[2656,228],[2355,265],[2566,294],[2588,176],[2506,181],[2388,171],[1908,202],[2026,200],[2053,176],[2122,215],[2143,155],[1779,155],[1842,150],[2945,202],[3123,163],[3191,176],[2698,163],[2259,108],[2067,79],[1957,84],[2349,84],[1984,14],[2506,50],[2624,45],[2717,50],[2752,45],[3137,92],[3479,194],[3287,176]];
const blueH = [[1806,1634],[1814,1598],[1908,1634],[1943,1629],[2519,1721],[2615,1755],[2862,1681],[2821,1603],[2525,1624],[2401,1590],[2396,1564],[2122,1582],[2039,1550],[2026,1530],[2155,1524],[2196,1467],[2382,1467],[2903,1537],[2953,1564],[3114,1545],[3169,1569],[3328,1582],[3370,1572],[3512,1490],[2848,1467],[2492,1407],[2547,1433],[2601,1446],[2511,1367],[2917,1407],[2876,1380],[2939,1354],[3367,1414],[1891,1341],[1998,1359],[2080,1354],[2135,1367],[2122,1315],[2253,1310],[2681,1302],[3282,1349],[3485,1373],[3512,1320],[1990,1263],[2080,1223],[2108,1205],[2155,1210],[2807,1231],[3301,1270],[3375,1210],[3507,1184],[2437,1210],[2382,1197],[2423,1171],[2401,1145],[1779,1158],[1787,1066],[3301,1035],[2711,1001],[3553,1053],[2794,948],[2884,956],[2047,956],[1916,927],[1930,862],[2108,922],[2135,857],[3109,988],[3150,948],[3287,940],[3328,883],[3060,917],[3035,862],[3548,830],[2511,807],[2157,765],[2270,752],[1886,744],[1820,726],[1806,692],[2903,760],[2980,760],[3301,765],[3548,752],[3054,707],[2072,692],[3095,634],[2039,627],[3241,650],[3521,634],[2190,590],[2231,627],[2264,582],[3027,590],[3123,616],[2377,569],[2374,516],[2500,550],[2552,564],[2922,574],[2876,516],[3507,550],[3548,550],[1891,556],[2039,548],[2445,490],[2519,490],[3186,464],[2961,433],[1894,417],[2080,422],[2223,412],[2451,399],[2506,417],[2555,399],[2632,406],[2774,438],[2862,399],[3287,412],[3260,364],[3186,359],[3383,372],[2733,372],[1984,359],[2039,341],[1792,346],[3548,354],[2437,341],[2122,299],[2382,289],[2431,289],[2560,289],[2547,268],[3073,302],[2991,294],[2950,255],[3191,289],[3246,268],[3246,215],[1803,273],[2163,241],[2752,249],[2876,215],[2212,189],[2766,181],[2788,137],[2848,118],[2692,124],[3337,150],[3219,145],[3425,137],[1998,116],[2382,98],[2601,84],[3049,103],[3241,92],[3274,90],[3466,84],[2802,40],[1792,45],[1866,58],[3370,45],[3411,6]];

const redI = [[3598,1715],[3617,1595],[3817,1603],[3782,1551],[3823,1511],[3645,1498],[3680,1427],[3941,1441],[3960,1498],[4037,1530],[4097,1564],[4185,1624],[4275,1642],[4338,1734],[4377,1721],[4330,1590],[4522,1577],[4495,1537],[4605,1537],[4358,1511],[4317,1485],[4462,1467],[4755,1551],[4873,1537],[4947,1537],[4267,1433],[4070,1386],[4125,1372],[4275,1367],[4605,1433],[4695,1359],[4975,1407],[5139,1420],[5153,1393],[5277,1310],[3817,1276],[4303,1276],[4385,1281],[4714,1281],[4303,1236],[3952,1210],[4015,1202],[4070,1189],[4171,1250],[4467,1215],[4687,1210],[5161,1223],[5236,1223],[4939,1244],[4893,1236],[4865,1184],[4865,1132],[4893,1092],[4920,1058],[4591,1113],[3878,1079],[3795,1022],[4116,1032],[4234,1092],[4207,1048],[4443,1066],[4750,1061],[4832,1048],[4832,1014],[5277,1074],[5148,1019],[5214,1014],[3735,980],[3946,909],[4152,917],[4714,974],[4605,980],[4550,935],[4522,901],[5071,988],[5043,922],[4816,922],[4810,857],[3773,870],[4061,857],[4125,844],[4193,870],[4426,838],[4915,849],[5222,878],[4673,844],[4660,786],[4385,778],[4898,786],[3809,765],[4157,770],[5159,752],[4407,752],[3590,765],[4048,705],[4248,713],[4262,655],[4297,595],[4577,713],[4605,700],[4852,681],[5008,718],[5002,647],[5139,634],[5093,590],[5255,639],[5290,582],[3658,608],[3680,561],[4064,537],[4495,493],[4714,582],[4846,529],[4975,404],[3913,412],[4048,406],[4358,412],[4459,380],[4262,386],[4229,328],[4248,286],[4330,315],[4289,307],[3949,312],[4146,315],[4097,268],[4064,215],[3653,338],[3658,286],[3782,255],[3699,189],[3754,215],[3609,150],[4363,218],[4528,260],[4481,320],[4605,249],[4714,346],[4961,202],[5093,273],[5194,304],[5194,176],[5175,124],[5236,98],[4248,215],[4262,163],[4152,111],[4001,124],[3858,76],[3773,32],[4613,105],[4544,189],[4522,58],[4846,181],[4871,137],[4709,131],[4797,84],[4421,19],[4303,58],[4344,58],[4673,24],[5112,32],[5131,45]];
const blueI = [[3795,1663],[4064,1689],[4500,1695],[3746,1595],[3691,1564],[3708,1506],[3933,1532],[4385,1585],[4223,1564],[4237,1490],[4640,1634],[4687,1681],[4865,1637],[4805,1590],[4775,1524],[4585,1537],[4673,1485],[4701,1467],[5016,1506],[5126,1289],[5285,1537],[3828,1446],[3869,1367],[4171,1451],[4089,1399],[4188,1367],[4344,1427],[4404,1388],[4542,1441],[4522,1375],[4467,1349],[4832,1420],[4898,1427],[4871,1399],[4322,1315],[4673,1294],[5071,1250],[3837,1223],[4029,1263],[4092,1250],[4199,1255],[4138,1197],[4171,1153],[4330,1205],[4303,1153],[4393,1158],[4421,1179],[4805,1215],[4832,1202],[3650,1121],[4009,1100],[4042,1058],[4064,1032],[4262,1050],[4660,1074],[4750,1027],[5011,1040],[3590,1014],[3828,998],[3960,993],[3664,961],[3987,943],[3927,922],[4289,948],[4446,988],[4528,988],[4404,909],[4871,974],[4887,948],[4687,883],[5222,961],[5167,935],[5139,930],[4467,870],[4281,862],[4528,830],[5038,838],[5194,823],[5254,830],[4048,786],[4064,781],[4330,778],[4330,752],[3878,736],[4196,726],[4783,713],[4413,705],[3960,681],[3686,673],[3708,647],[4393,660],[4385,621],[4596,626],[4816,621],[4805,608],[3672,595],[4380,569],[4157,569],[5244,595],[5208,537],[4728,556],[4797,543],[4542,537],[3590,561],[5153,485],[4029,477],[4783,419],[4810,425],[4931,414],[4404,406],[4064,399],[3837,380],[5257,391],[4687,386],[4517,367],[4660,346],[4015,344],[4824,320],[3828,302],[4421,312],[4660,281],[4695,268],[3617,273],[3699,229],[3809,241],[4467,262],[4797,247],[4843,247],[3941,179],[4467,171],[5145,179],[4097,145],[4174,157],[4201,124],[4542,131],[3699,105],[3828,116],[4673,84],[5112,100],[3686,45],[4399,92],[4440,71],[5216,50],[5235,27],[4728,45],[4893,53],[4500,24]];

const redHits = [...redA, ...redB, ...redC, ...redD, ...redE, ...redF, ...redG, ...redH, ...redI];
const blueHits = [...blueA, ...blueB, ...blueC, ...blueD, ...blueE, ...blueF, ...blueG, ...blueH, ...blueI, ...bandUpper, ...bandUpperSide, ...bandUpperMid, ...bandLower];

export default function App() {
  const ref = useRef<HTMLDivElement>(null);
  useEffect(() => {
    const chart = echarts.init(ref.current!, undefined, { renderer: "svg" });
    const nameStyle = { color: "#000", fontFamily: "DejaVu Sans Mono", fontSize: 8 };
    const axisCommon = {
      type: "value" as const,
      min: 0,
      max: tickMax,
      interval: tickStep,
      axisLine: { show: false },
      axisTick: { show: false },
      axisLabel: {
        color: "#000",
        fontFamily: "DejaVu Sans Mono",
        fontSize: 8,
        fontWeight: "bold" as const,
        margin: 5,
        hideOverlap: false,
        showMaxLabel: true,
        showMinLabel: true,
        formatter: (v: number) => String(v),
      },
      splitLine: { show: true, lineStyle: { color: "#a0a0a0", type: [2, 2] as number[], width: 1 } },
    };
    chart.setOption({
      animation: false,
      backgroundColor: "#fff",
      grid: { left: 55.5, right: 16, top: 10, bottom: 26, containLabel: false, outerBoundsMode: "none" },
      xAxis: { ...axisCommon, name: "REF", nameLocation: "middle", nameGap: 16, nameMoveOverlap: false, nameTextStyle: nameStyle },
      yAxis: { ...axisCommon, name: "S_ureilytica_L=54_chr", nameLocation: "middle", nameGap: 44, nameMoveOverlap: false, nameTextStyle: nameStyle },
      series: [
        { type: "scatter", symbolSize: 10, clip: false, progressive: 0, large: false, itemStyle: { color: "#ff0000", opacity: 1 }, data: redHits.map(([x, y]) => [x * 1000, y * 1000]) },
        { type: "scatter", symbolSize: 10, clip: false, progressive: 0, large: false, itemStyle: { color: "#0080ff", opacity: 1 }, data: blueHits.map(([x, y]) => [x * 1000, y * 1000]) },
      ],
    });
    return () => chart.dispose();
  }, []);
  return <div ref={ref} style={{ position: "fixed", left: 0, top: 0, width: 800, height: 800 }} />;
}
